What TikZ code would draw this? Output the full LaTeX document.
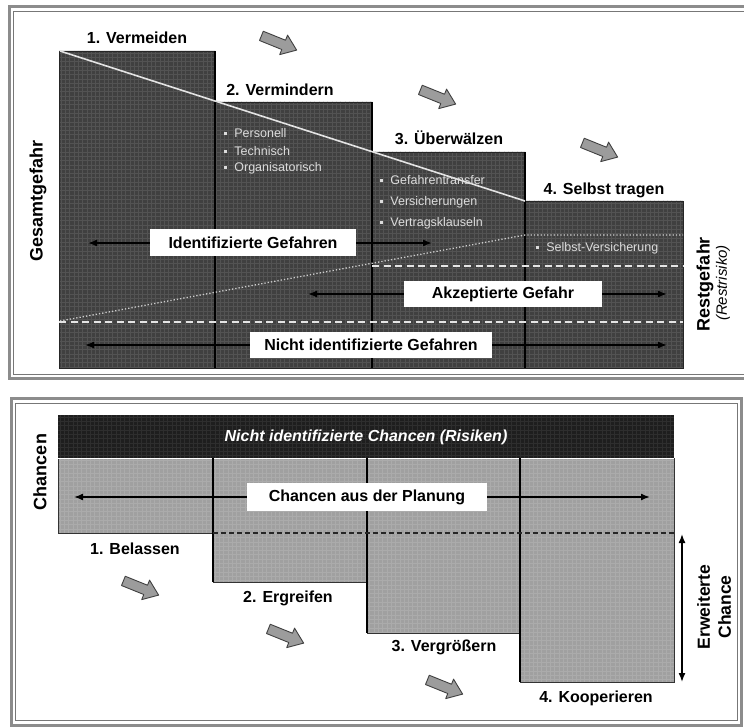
\documentclass[tikz,border=0pt]{standalone}
\usepackage{fontspec}
\setmainfont{Liberation Sans}
\usetikzlibrary{arrows.meta}

\definecolor{riskfill}{HTML}{404040}
\definecolor{riskgrid}{HTML}{535353}
\definecolor{chancefill}{HTML}{A0A0A0}
\definecolor{chancegrid}{HTML}{ABABAB}
\definecolor{headfill}{HTML}{1E1E1E}
\definecolor{headgrid}{HTML}{2E2E2E}
\definecolor{framegray}{HTML}{8C8C8C}
\definecolor{bullettext}{HTML}{DCDCDC}
\definecolor{arrowgray}{HTML}{9C9C9C}
\definecolor{lightline}{HTML}{E4E4E4}

% small square bullet for the measure lists
\newcommand\sqbullet{\raisebox{0.35ex}{\rule{3.2pt}{3.2pt}}}

\tikzset{
  lbl/.style={font=\fontsize{16}{19}\selectfont\bfseries, inner sep=0},
  axislbl/.style={font=\fontsize{18}{21}\selectfont\bfseries, rotate=90, inner sep=0},
  item/.style={font=\fontsize{12.5}{15}\selectfont, text=bullettext, anchor=west, inner sep=0},
  whitebox/.style={fill=white, font=\fontsize{16}{19}\selectfont\bfseries, inner sep=0},
  arr/.style={line width=1.5pt, -{Latex[length=9pt,width=7pt]}},
  divider/.style={line width=1.8pt, black},
  dashline/.style={line width=2pt, lightline, dash pattern=on 7pt off 4.5pt},
  frameout/.style={framegray, line width=3pt},
  framein/.style={framegray!85!black, line width=0.8pt},
  pics/steparrow/.style={code={
    \draw[fill=arrowgray, draw=black!75, line width=0.9pt, line join=round]
      (-19,-5) -- (5,-5) -- (5,-10.5) -- (19,0) -- (5,10.5) -- (5,5) -- (-19,5) -- cycle;}}
}

\begin{document}
\begin{tikzpicture}[x=1pt,y=-1pt]
\useasboundingbox (0,0) rectangle (744,727);
\fill[white] (0,0) rectangle (744,727);

%% ---------------- Gefahren (upper panel) ----------------
\draw[frameout] (9,6.5) rectangle (770,378.5);
\draw[framein] (13.5,11) rectangle (770,374.5);

% staircase of the four strategies
\fill[riskfill] (59,51) -- (215,51) -- (215,102) -- (372,102) -- (372,152) -- (525,152)
  -- (525,201) -- (683,201) -- (683,368) -- (59,368) -- cycle;
\begin{scope}
  \clip (59,51) -- (215,51) -- (215,102) -- (372,102) -- (372,152) -- (525,152)
    -- (525,201) -- (683,201) -- (683,368) -- (59,368) -- cycle;
  \foreach \gx in {61,65.3,...,684} \draw[riskgrid, line width=0.5pt] (\gx,51) -- (\gx,368);
  \foreach \gy in {53,57.3,...,369} \draw[riskgrid, line width=0.5pt] (59,\gy) -- (683,\gy);
\end{scope}
\draw[black!85, line width=0.8pt] (59,51) -- (215,51) -- (215,102) -- (372,102) -- (372,152)
  -- (525,152) -- (525,201) -- (683,201) -- (683,368) -- (59,368) -- cycle;

\draw[divider] (215,51) -- (215,368);
\draw[divider] (372,102) -- (372,368);
\draw[divider] (525,152) -- (525,368);

% total risk line, residual risk line and boundaries
\draw[lightline, line width=1.6pt] (60,51) -- (525,201);
\draw[lightline!90!black, line width=1.3pt, dotted] (60,321) -- (525,235) -- (683,235);
\draw[dashline] (372,266) -- (683,266);
\draw[dashline] (59,322) -- (683,322);

% step titles
\node[lbl] (t1) at (137,38) {1. Vermeiden};
\node[lbl] (t2) at (280,90) {2. Vermindern};
\node[lbl] (t3) at (449,138) {3. Überwälzen};
\node[lbl] (t4) at (604,190) {4. Selbst tragen};

\pic[rotate=-22] at (279,43) {steparrow};
\pic[rotate=-22] at (438,97) {steparrow};
\pic[rotate=-22] at (600,150) {steparrow};

% measures
\node[item] (m21) at (224,133) {\sqbullet\hspace{7pt}Personell};
\node[item] (m22) at (224,151) {\sqbullet\hspace{7pt}Technisch};
\node[item] (m23) at (224,168) {\sqbullet\hspace{7pt}Organisatorisch};
\node[item] (m31) at (380,180) {\sqbullet\hspace{7pt}Gefahrentransfer};
\node[item] (m32) at (380,202) {\sqbullet\hspace{7pt}Versicherungen};
\node[item] (m33) at (380,223) {\sqbullet\hspace{7pt}Vertragsklauseln};
\node[item] (m41) at (536,248) {\sqbullet\hspace{7pt}Selbst-Versicherung};

% range labels with arrows
\node[whitebox, minimum width=206, minimum height=27] (ig) at (253,243) {Identifizierte Gefahren};
\coordinate (igL) at (88,243);
\coordinate (igR) at (432,243);
\draw[arr] (ig.west) -- (igL);
\draw[arr] (ig.east) -- (igR);

\node[whitebox, minimum width=198, minimum height=25] (ag) at (503,294) {Akzeptierte Gefahr};
\coordinate (agL) at (308,294);
\coordinate (agR) at (667,294);
\draw[arr] (ag.west) -- (agL);
\draw[arr] (ag.east) -- (agR);

\node[whitebox, minimum width=242, minimum height=26] (ng) at (371,345) {Nicht identifizierte Gefahren};
\coordinate (ngL) at (85,345);
\coordinate (ngR) at (667,345);
\draw[arr] (ng.west) -- (ngL);
\draw[arr] (ng.east) -- (ngR);

% axis labels
\node[axislbl] (gesamt) at (38,201) {Gesamtgefahr};
\node[axislbl] (rest) at (705,284) {Restgefahr};
\node[font=\fontsize{15}{18}\selectfont\itshape, rotate=90, inner sep=0] (restr) at (723,283) {(Restrisiko)};

%% ---------------- Chancen (lower panel) ----------------
\draw[frameout] (11,398.5) rectangle (741.5,725);
\draw[framein] (15.5,403) rectangle (737,720.5);

% header band
\fill[headfill] (58,415) rectangle (674,458);
\begin{scope}
  \clip (58,415) rectangle (674,458);
  \foreach \gx in {60,64.3,...,675} \draw[headgrid, line width=0.5pt] (\gx,415) -- (\gx,458);
  \foreach \gy in {417,421.3,...,458} \draw[headgrid, line width=0.5pt] (58,\gy) -- (674,\gy);
\end{scope}
\node[font=\fontsize{16}{19}\selectfont\bfseries\itshape, text=white, inner sep=0] (nc) at (366,437) {Nicht identifizierte Chancen (Risiken)};

% staircase of the four options
\fill[chancefill] (58,458) -- (674,458) -- (674,682) -- (520,682) -- (520,633) -- (367,633)
  -- (367,582) -- (213,582) -- (213,533) -- (58,533) -- cycle;
\begin{scope}
  \clip (58,458) -- (674,458) -- (674,682) -- (520,682) -- (520,633) -- (367,633)
    -- (367,582) -- (213,582) -- (213,533) -- (58,533) -- cycle;
  \foreach \gx in {60,64.3,...,675} \draw[chancegrid, line width=0.4pt] (\gx,458) -- (\gx,682);
  \foreach \gy in {460,464.3,...,683} \draw[chancegrid, line width=0.4pt] (58,\gy) -- (674,\gy);
\end{scope}
\draw[black!80, line width=0.9pt] (58,458) -- (674,458) -- (674,682) -- (520,682) -- (520,633)
  -- (367,633) -- (367,582) -- (213,582) -- (213,533) -- (58,533) -- cycle;
\draw[white, line width=1pt] (58,458) -- (674,458);

\draw[black, line width=1.5pt] (213,458) -- (213,582);
\draw[black, line width=1.5pt] (367,458) -- (367,633);
\draw[black, line width=1.5pt] (520,458) -- (520,682);
\draw[black!85, line width=1.3pt, dash pattern=on 5pt off 3pt] (213,533) -- (674,533);

\node[whitebox, minimum width=240, minimum height=28] (cp) at (367,497) {Chancen aus der Planung};
\coordinate (cpL) at (74,497);
\coordinate (cpR) at (650,497);
\draw[arr] (cp.west) -- (cpL);
\draw[arr] (cp.east) -- (cpR);

% option titles
\node[lbl] (c1) at (135,549) {1. Belassen};
\node[lbl] (c2) at (288,598) {2. Ergreifen};
\node[lbl] (c3) at (444,647) {3. Vergrößern};
\node[lbl] (c4) at (596,698) {4. Kooperieren};

\pic[rotate=-22] at (141,588) {steparrow};
\pic[rotate=-22] at (286,636) {steparrow};
\pic[rotate=-22] at (445,687) {steparrow};

% extended chance range
\coordinate (ecT) at (682,534);
\coordinate (ecB) at (682,682);
\draw[line width=1.5pt, {Latex[length=9pt,width=7pt]}-{Latex[length=9pt,width=7pt]}] (ecT) -- (ecB);
\node[font=\fontsize{17.5}{21}\selectfont\bfseries, rotate=90, align=center, inner sep=0] (ec) at (714,607) {Erweiterte\\Chance};

\node[axislbl] (chancen) at (40,472) {Chancen};
\end{tikzpicture}
\end{document}
